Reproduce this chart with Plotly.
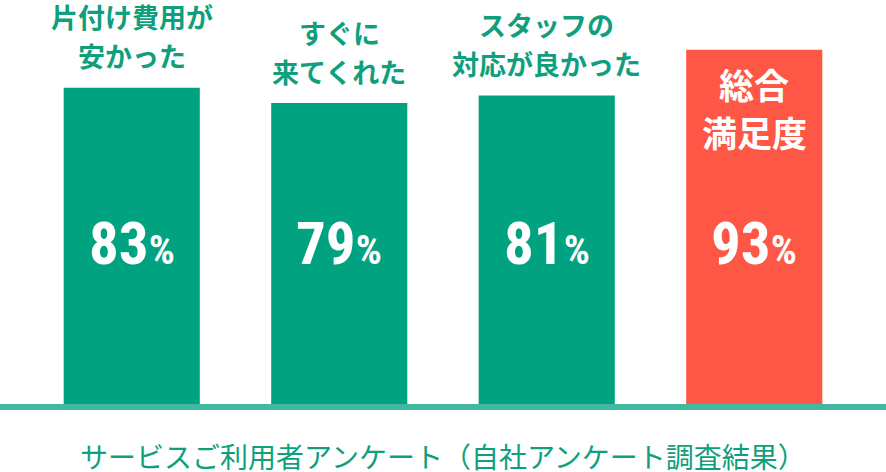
import plotly.graph_objects as go

categories = ["片付け費用が<br>安かった", "すぐに<br>来てくれた", "スタッフの<br>対応が良かった", "総合<br>満足度"]
values = [83, 79, 81, 93]
colors = ["#00a27f", "#00a27f", "#00a27f", "#ff5745"]
caption = "サービスご利用者アンケート（自社アンケート調査結果）"

jp = "Noto Sans CJK JP"
num_font = "Liberation Sans Narrow, Roboto Condensed, DejaVu Sans Condensed, Roboto"

x = list(range(len(values)))

fig = go.Figure(go.Bar(
    x=x, y=values, width=0.656,
    marker=dict(color=colors, line=dict(width=0)),
    hoverinfo="skip",
))

annotations = []
for i, (cat, v) in enumerate(zip(categories, values)):
    lines = cat.split("<br>")
    last = i == len(values) - 1
    for j, line in enumerate(lines):
        if not last:
            # green label above the bar, one annotation per line for spacing
            shift = 32 + 39 * (len(lines) - 1 - j)
            font = dict(family=jp, size=27, color="#0f9f7d", weight="bold")
        else:
            # the overall one sits inside the bar in white
            shift = -(34 + 48 * j)
            font = dict(family=jp, size=35, color="white", weight="bold")
        annotations.append(dict(
            x=i, y=v, xref="x", yref="y", text=line, showarrow=False,
            yanchor="middle", yshift=shift, font=font,
        ))
    annotations.append(dict(
        x=i, y=42, xref="x", yref="y", showarrow=False,
        text=f"{v}<span style='font-size:41px'>%</span>",
        font=dict(family=num_font, size=59, color="white", weight="bold"),
    ))

# caption below the plot
annotations.append(dict(
    x=0.5, y=-(456 - 404) / 381, xref="paper", yref="paper", showarrow=False,
    yanchor="middle",
    text=caption, font=dict(family=jp, size=28, color="#0f9f7d"),
))

fig.update_layout(
    width=886, height=472,
    margin=dict(l=28, r=28, t=23, b=68),
    paper_bgcolor="white", plot_bgcolor="white",
    showlegend=False,
    xaxis=dict(range=[-0.5, 3.5], visible=False, fixedrange=True),
    yaxis=dict(range=[0, 100], visible=False, fixedrange=True),
    shapes=[dict(
        type="rect", xref="paper", yref="paper",
        x0=-0.05, x1=1.05, y0=-6 / 381, y1=0,
        fillcolor="#40b9a0", line=dict(width=0), layer="above",
    )],
    annotations=annotations,
)

fig.write_html(
    "out.html",
    config={"displayModeBar": False, "staticPlot": True},
    post_script="document.body.style.margin='0';document.body.style.overflow='hidden';",
)
